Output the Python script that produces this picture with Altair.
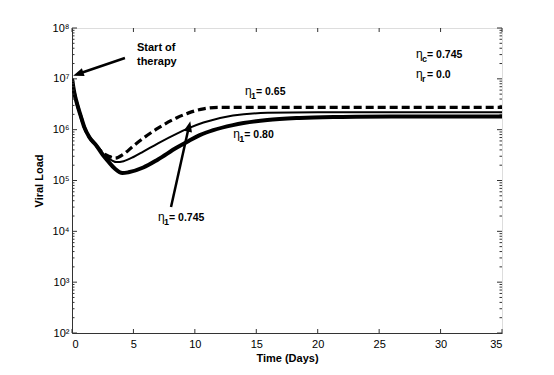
import altair as alt
import pandas as pd

# ---- data (time in days, viral load) ----
t_065 = [0, 0.2, 0.4, 0.7, 1.0, 1.4, 2.0, 2.5, 3.0, 3.5, 4.2, 5.0, 5.8, 7.0, 8.5, 9.5, 10.7, 12, 14, 35]
v_065 = [1.0e7, 5.2e6, 3.3e6, 1.9e6, 1.12e6, 7.2e5, 4.8e5, 3.5e5, 3.0e5, 2.75e5, 3.3e5, 4.8e5,
         6.8e5, 1.07e6, 1.7e6, 2.14e6, 2.57e6, 2.75e6, 2.75e6, 2.75e6]

t_0745 = [0, 0.2, 0.4, 0.7, 1.0, 1.4, 2.0, 2.5, 3.0, 3.6, 4.2, 5.0, 5.8, 7.0, 8.5, 9.5, 10.7, 13.1, 15.9, 20, 35]
v_0745 = [1.0e7, 5.2e6, 3.3e6, 1.9e6, 1.12e6, 7.2e5, 4.8e5, 3.4e5, 2.7e5, 2.3e5, 2.4e5, 2.9e5,
          3.7e5, 5.4e5, 8.3e5, 1.07e6, 1.38e6, 1.9e6, 2.14e6, 2.19e6, 2.19e6]

t_080 = [0, 0.2, 0.4, 0.7, 1.0, 1.4, 2.0, 2.5, 3.0, 3.5, 4.1, 4.6, 5.8, 7.0, 8.5, 9.5, 10.4, 11.5, 13.1, 15.9, 18.5, 22, 26, 35]
v_080 = [1.0e7, 5.2e6, 3.3e6, 1.9e6, 1.12e6, 7.2e5, 4.8e5, 3.2e5, 2.3e5, 1.7e5, 1.4e5, 1.45e5,
         1.8e5, 2.6e5, 4.4e5, 6.0e5, 7.8e5, 9.8e5, 1.23e6, 1.55e6, 1.7e6, 1.78e6, 1.82e6, 1.82e6]

x_ticks = [0, 5, 10, 15, 20, 25, 30, 35]
y_major = [1e2, 1e3, 1e4, 1e5, 1e6, 1e7, 1e8]
y_minor = [m * 10 ** k for k in range(2, 8) for m in range(2, 10)]

# annotations (time, viral load)
arrow_lines = pd.DataFrame({
    "t": [4.31, 8.06],
    "v": [2.57e7, 3.0e4],
    "t2": [0.6, 9.5],
    "v2": [1.27e7, 1.1e6],
})
arrow_heads = pd.DataFrame({
    "t": [0.55, 9.52],
    "v": [1.26e7, 1.13e6],
    "ang": [251, 13],
})
eta_labels = pd.DataFrame({
    "t": [7.0, 14.08, 13.13, 28.0, 28.0],
    "v": [1.8e4, 5.6e6, 7.8e5, 2.95e7, 1.19e7],
    "sub": ["1", "1", "1", "c", "r"],
    "val": ["= 0.745", "= 0.65", "= 0.80", "= 0.745", "= 0.0"],
})
start_text = pd.DataFrame({
    "t": [5.29, 5.29],
    "v": [4.05e7, 2.14e7],
    "txt": ["Start of", "therapy"],
})

FONT = "Liberation Sans"
W, H = 430, 305

x_scale = alt.Scale(domain=[0, 35], nice=False, zero=False)
y_scale = alt.Scale(type="log", domain=[1e2, 1e8], nice=False)
x_axis = alt.Axis(values=x_ticks, title="Time (Days)", ticks=False, grid=False,
                  labelFontSize=11, labelFont=FONT, titleFont=FONT, titleFontSize=11,
                  titleFontWeight="bold", labelPadding=5, titlePadding=3,
                  domainColor="#333", labelColor="black", titleColor="black")
y_axis = alt.Axis(values=y_major, title="Viral Load", ticks=False, grid=False,
                  labelExpr="'10' + ['⁰','¹','²','³','⁴','⁵','⁶','⁷','⁸'][round(log(datum.value)/LN10)]",
                  labelFontSize=11, labelFont=FONT, titleFont=FONT, titleFontSize=11,
                  titleFontWeight="bold", labelPadding=3, titlePadding=8,
                  domainColor="#333", labelColor="black", titleColor="black")


def X(f):
    return alt.X(f, type="quantitative", scale=x_scale, axis=x_axis)


def Y(f):
    return alt.Y(f, type="quantitative", scale=y_scale, axis=y_axis)


def series(t, v):
    return pd.DataFrame({"t": t, "v": v})


line065 = alt.Chart(series(t_065, v_065)).mark_line(
    color="black", strokeWidth=3.2, strokeDash=[8, 4], interpolate="monotone", clip=True
).encode(x=X("t"), y=Y("v"))
line0745 = alt.Chart(series(t_0745, v_0745)).mark_line(
    color="black", strokeWidth=2, interpolate="monotone", clip=True
).encode(x=X("t"), y=Y("v"))
line080 = alt.Chart(series(t_080, v_080)).mark_line(
    color="black", strokeWidth=4, interpolate="monotone", clip=True
).encode(x=X("t"), y=Y("v"))

# inward ticks
xt = pd.DataFrame({"t": x_ticks})
xt_bot = alt.Chart(xt).mark_rule(color="#333", strokeWidth=1).encode(
    x=X("t"), y=alt.value(H), y2=alt.value(H - 4))
xt_top = alt.Chart(xt).mark_rule(color="#333", strokeWidth=1).encode(
    x=X("t"), y=alt.value(0), y2=alt.value(4))
ymaj = pd.DataFrame({"v": y_major})
ymin = pd.DataFrame({"v": y_minor})
yt_l = alt.Chart(ymaj).mark_rule(color="#333", strokeWidth=1).encode(
    y=Y("v"), x=alt.value(0), x2=alt.value(5))
yt_r = alt.Chart(ymaj).mark_rule(color="#333", strokeWidth=1).encode(
    y=Y("v"), x=alt.value(W), x2=alt.value(W - 5))
ym_l = alt.Chart(ymin).mark_rule(color="#333", strokeWidth=1).encode(
    y=Y("v"), x=alt.value(0), x2=alt.value(2.5))
ym_r = alt.Chart(ymin).mark_rule(color="#333", strokeWidth=1).encode(
    y=Y("v"), x=alt.value(W), x2=alt.value(W - 2.5))

# arrows
arr_l = alt.Chart(arrow_lines).mark_rule(color="black", strokeWidth=2.5).encode(
    x=X("t"), y=Y("v"), x2="t2", y2="v2")
arr_h = alt.Chart(arrow_heads).mark_point(
    shape="M0,-1L0.7,0.8L-0.7,0.8Z", filled=True, color="black", size=140, opacity=1
).encode(x=X("t"), y=Y("v"), angle=alt.Angle("ang:Q", scale=None))

# texts
eta = alt.Chart(eta_labels).mark_text(
    text="η", font=FONT, fontSize=12, align="left", baseline="middle", color="black", dy=-1
).encode(x=X("t"), y=Y("v"))
sub = alt.Chart(eta_labels).mark_text(
    font=FONT, fontSize=9, fontWeight="bold", align="left", baseline="middle", color="black", dx=6, dy=4
).encode(x=X("t"), y=Y("v"), text="sub:N")
val = alt.Chart(eta_labels).mark_text(
    font=FONT, fontSize=10.5, fontWeight="bold", align="left", baseline="middle", color="black", dx=11
).encode(x=X("t"), y=Y("v"), text="val:N")
start = alt.Chart(start_text).mark_text(
    font=FONT, fontSize=11, fontWeight="bold", align="left", baseline="middle", color="black"
).encode(x=X("t"), y=Y("v"), text="txt:N")

chart = alt.layer(
    line065, line0745, line080,
    xt_bot, xt_top, yt_l, yt_r, ym_l, ym_r,
    arr_l, arr_h, eta, sub, val, start,
).properties(
    width=W, height=H,
    autosize=alt.AutoSizeParams(type="none"),
    padding={"left": 64, "top": 20, "right": 44, "bottom": 34},
).configure_view(stroke="#333", strokeWidth=1).configure(background="white")

chart.save("out.html", embed_options={"renderer": "svg", "actions": False})
